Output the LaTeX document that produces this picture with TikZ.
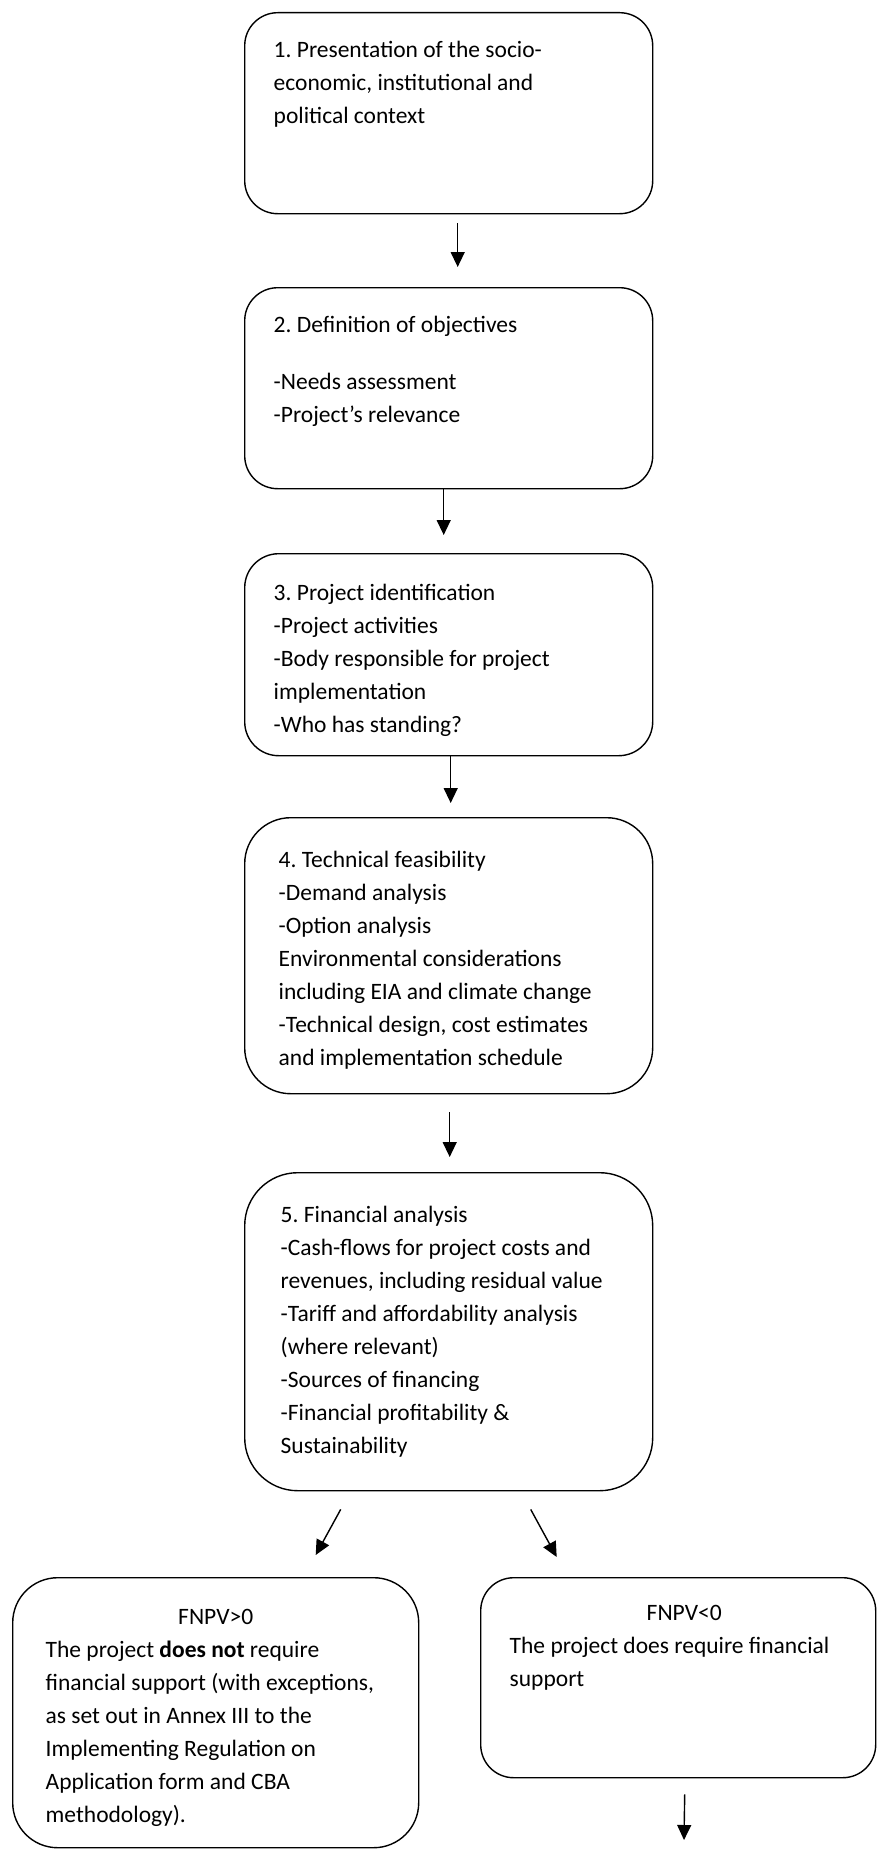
\documentclass[tikz,border=0pt]{standalone}
\usepackage{fontspec}
\setmainfont{Carlito}
\usepackage{tikz}
\usetikzlibrary{arrows.meta}
\frenchspacing

\tikzset{
    stepbox/.style={draw, line width=1.4pt, anchor=north west, inner xsep=29pt},
    flow/.style={line width=1.4pt, -{Triangle[length=15pt,width=14pt]}}
}

\begin{document}
\begin{tikzpicture}[x=1pt, y=-1pt, font=\fontsize{23.5}{33}\selectfont]
    \useasboundingbox (0,0) rectangle (877,1849);

    % Context
    \node[stepbox, rounded corners=33pt, inner ysep=22pt] (context) at (244,12) {
        \begin{minipage}[c][157pt][t]{350pt}
        \strut 1. Presentation of the socio-\\
        economic, institutional and\\
        political context
        \end{minipage}
    };

    % Objectives
    \node[stepbox, rounded corners=33pt, inner ysep=22pt] (objectives) at (244,287) {
        \begin{minipage}[c][157pt][t]{350pt}
        \strut 2. Definition of objectives\\[24pt]
        -Needs assessment\\
        -Project’s relevance
        \end{minipage}
    };

    % Identification
    \node[stepbox, rounded corners=34pt, inner ysep=24pt] (identification) at (244,553) {
        \begin{minipage}[c][154pt][t]{350pt}
        \strut 3. Project identification\\
        -Project activities\\
        -Body responsible for project\\
        implementation\\
        -Who has standing?
        \end{minipage}
    };

    % Feasibility
    \node[stepbox, rounded corners=46pt, inner ysep=27pt, inner xsep=34pt] (feasibility) at (244,817) {
        \begin{minipage}[c][222pt][t]{340pt}
        \strut 4. Technical feasibility\\
        -Demand analysis\\
        -Option analysis\\
        Environmental considerations\\
        including EIA and climate change\\
        -Technical design, cost estimates\\
        and implementation schedule
        \end{minipage}
    };

    % Financial
    \node[stepbox, rounded corners=53pt, inner ysep=27pt, inner xsep=36pt] (financial) at (244,1172) {
        \begin{minipage}[c][264pt][t]{336pt}
        \strut 5. Financial analysis\\
        -Cash-flows for project costs and\\
        revenues, including residual value\\
        -Tariff and affordability analysis\\
        (where relevant)\\
        -Sources of financing\\
        -Financial profitability \&\\
        Sustainability
        \end{minipage}
    };

    % Outcomes
    \node[stepbox, rounded corners=45pt, inner ysep=24pt, inner xsep=33pt] (positive) at (12,1577) {
        \begin{minipage}[c][222pt][t]{340pt}
        {\centering\strut FNPV>0\par}
        The project \textbf{does not} require\\
        financial support (with exceptions,\\
        as set out in Annex III to the\\
        Implementing Regulation on\\
        Application form and CBA\\
        methodology).
        \end{minipage}
    };
    \node[stepbox, rounded corners=33pt, inner ysep=20pt] (negative) at (480,1577) {
        \begin{minipage}[c][160pt][t]{337pt}
        {\centering\strut\hspace*{12pt}FNPV<0\par}
        The project does require financial\\
        support
        \end{minipage}
    };
    \coordinate (next) at (684,1840);

    % Arrows
    \draw[flow] ([xshift=9pt,yshift=-9pt]context.south) -- ([xshift=9pt,yshift=20pt]objectives.north);
    \draw[flow] ([xshift=-5pt]objectives.south) -- ([xshift=-5pt,yshift=18pt]identification.north);
    \draw[flow] ([xshift=2pt]identification.south) -- ([xshift=2pt,yshift=14pt]feasibility.north);
    \draw[flow] ([xshift=1pt,yshift=-18pt]feasibility.south) -- ([xshift=1pt,yshift=15pt]financial.north);
    \draw[flow] ([xshift=-108pt,yshift=-18pt]financial.south) -- ([xshift=100pt,yshift=22pt]positive.north);
    \draw[flow] ([xshift=82pt,yshift=-18pt]financial.south) -- ([xshift=-121.5pt,yshift=20pt]negative.north);
    \draw[flow] ([xshift=6.5pt,yshift=-16pt]negative.south) -- (next);
\end{tikzpicture}
\end{document}
